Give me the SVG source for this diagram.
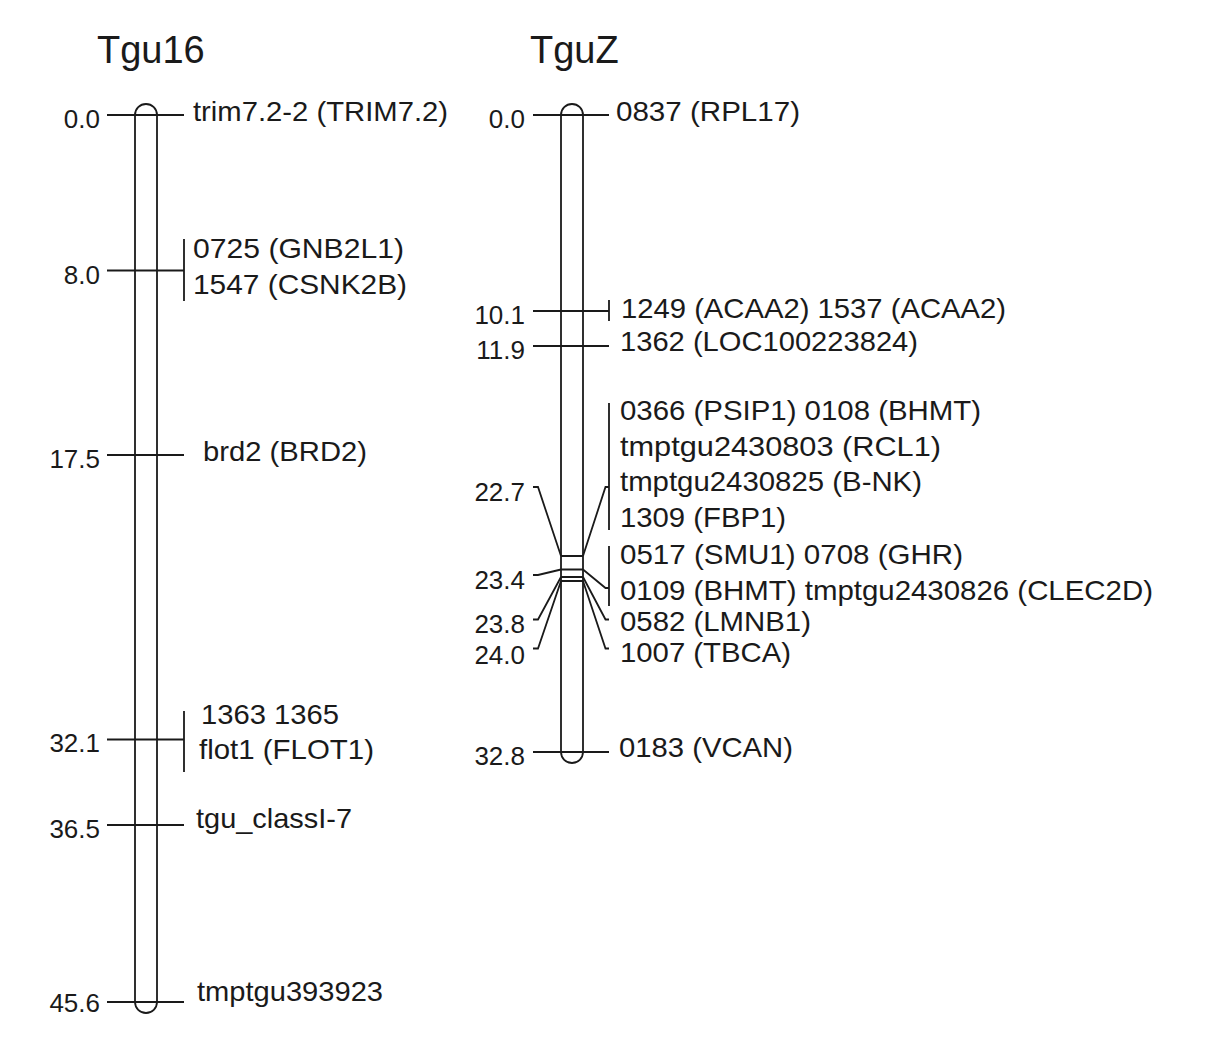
<svg xmlns="http://www.w3.org/2000/svg" width="1218" height="1039" viewBox="0 0 1218 1039">
<style>
.t{font-family:"Liberation Sans",Arial,sans-serif;font-size:38px;fill:#1a1a1a}
.s{font-family:"Liberation Sans",Arial,sans-serif;font-size:26px;fill:#1a1a1a;text-anchor:end}
.g{font-family:"Liberation Sans",Arial,sans-serif;font-size:28px;fill:#1a1a1a}
.ln{stroke:#1a1a1a;stroke-width:1.8;fill:none}
.ch{stroke:#1a1a1a;stroke-width:1.8;fill:#fff}
</style>
<rect width="1218" height="1039" fill="#fff"/>
<g id="tgu16">
<text class="t" x="97" y="63">Tgu16</text>
<path class="ch" d="M135,115 A11,11 0 0 1 157,115 L157,1002 A11,11 0 0 1 135,1002 Z"/>
</g>
<g id="tguz">
<text class="t" x="530" y="63">TguZ</text>
<path class="ch" d="M561,115 A11,11 0 0 1 583,115 L583,752 A11,11 0 0 1 561,752 Z"/>
</g>
<g id="connectors">
<path class="ln" d="M107,115H184M107,270.5H184M184,239V301M107,455H184M107,739.5H184M184,711V772M107,825H184M107,1002H184"/>
<path class="ln" d="M533,115H609M533,311H609M609,300V321M533,346H609M533,752H609"/>
<path class="ln" d="M561,556H583M561,569.5H583M561,577H583M561,581H583"/>
<path class="ln" d="M533,487H538L561,556M583,556L605.5,487H609M609,403V530"/>
<path class="ln" d="M533,575H538L561,569.5M583,569.5L605.5,588H609M609,546V606"/>
<path class="ln" d="M533,619.5H538L561,577M583,577L605.5,619.5H609"/>
<path class="ln" d="M533,648.5H538L561,581M583,581L605.5,648.5H609"/>
</g>
<g id="scale16">
<text class="s" x="100" y="128">0.0</text>
<text class="s" x="100" y="284">8.0</text>
<text class="s" x="100" y="468">17.5</text>
<text class="s" x="100" y="752">32.1</text>
<text class="s" x="100" y="838">36.5</text>
<text class="s" x="100" y="1012">45.6</text>
</g>
<g id="scaleZ">
<text class="s" x="525" y="128">0.0</text>
<text class="s" x="525" y="324">10.1</text>
<text class="s" x="525" y="359">11.9</text>
<text class="s" x="525" y="501">22.7</text>
<text class="s" x="525" y="589">23.4</text>
<text class="s" x="525" y="633">23.8</text>
<text class="s" x="525" y="664">24.0</text>
<text class="s" x="525" y="765">32.8</text>
</g>
<g id="labels16">
<text class="g" x="193" y="121" textLength="255" lengthAdjust="spacingAndGlyphs">trim7.2-2 (TRIM7.2)</text>
<text class="g" x="193" y="258" textLength="211" lengthAdjust="spacingAndGlyphs">0725 (GNB2L1)</text>
<text class="g" x="193" y="294" textLength="214" lengthAdjust="spacingAndGlyphs">1547 (CSNK2B)</text>
<text class="g" x="203" y="461" textLength="164" lengthAdjust="spacingAndGlyphs">brd2 (BRD2)</text>
<text class="g" x="201" y="724" textLength="138" lengthAdjust="spacingAndGlyphs">1363 1365</text>
<text class="g" x="199" y="759" textLength="175" lengthAdjust="spacingAndGlyphs">flot1 (FLOT1)</text>
<text class="g" x="196" y="828" textLength="156" lengthAdjust="spacingAndGlyphs">tgu_classI-7</text>
<text class="g" x="197" y="1001" textLength="186" lengthAdjust="spacingAndGlyphs">tmptgu393923</text>
</g>
<g id="labelsZ">
<text class="g" x="616" y="121" textLength="184" lengthAdjust="spacingAndGlyphs">0837 (RPL17)</text>
<text class="g" x="621" y="318" textLength="385" lengthAdjust="spacingAndGlyphs">1249 (ACAA2) 1537 (ACAA2)</text>
<text class="g" x="620" y="351" textLength="298" lengthAdjust="spacingAndGlyphs">1362 (LOC100223824)</text>
<text class="g" x="620" y="420" textLength="361" lengthAdjust="spacingAndGlyphs">0366 (PSIP1) 0108 (BHMT)</text>
<text class="g" x="620" y="456" textLength="321" lengthAdjust="spacingAndGlyphs">tmptgu2430803 (RCL1)</text>
<text class="g" x="620" y="491" textLength="302" lengthAdjust="spacingAndGlyphs">tmptgu2430825 (B-NK)</text>
<text class="g" x="620" y="527" textLength="166" lengthAdjust="spacingAndGlyphs">1309 (FBP1)</text>
<text class="g" x="620" y="564" textLength="343" lengthAdjust="spacingAndGlyphs">0517 (SMU1) 0708 (GHR)</text>
<text class="g" x="620" y="600" textLength="533" lengthAdjust="spacingAndGlyphs">0109 (BHMT) tmptgu2430826 (CLEC2D)</text>
<text class="g" x="620" y="631" textLength="191" lengthAdjust="spacingAndGlyphs">0582 (LMNB1)</text>
<text class="g" x="620" y="662" textLength="171" lengthAdjust="spacingAndGlyphs">1007 (TBCA)</text>
<text class="g" x="619" y="757" textLength="174" lengthAdjust="spacingAndGlyphs">0183 (VCAN)</text>
</g>
</svg>
